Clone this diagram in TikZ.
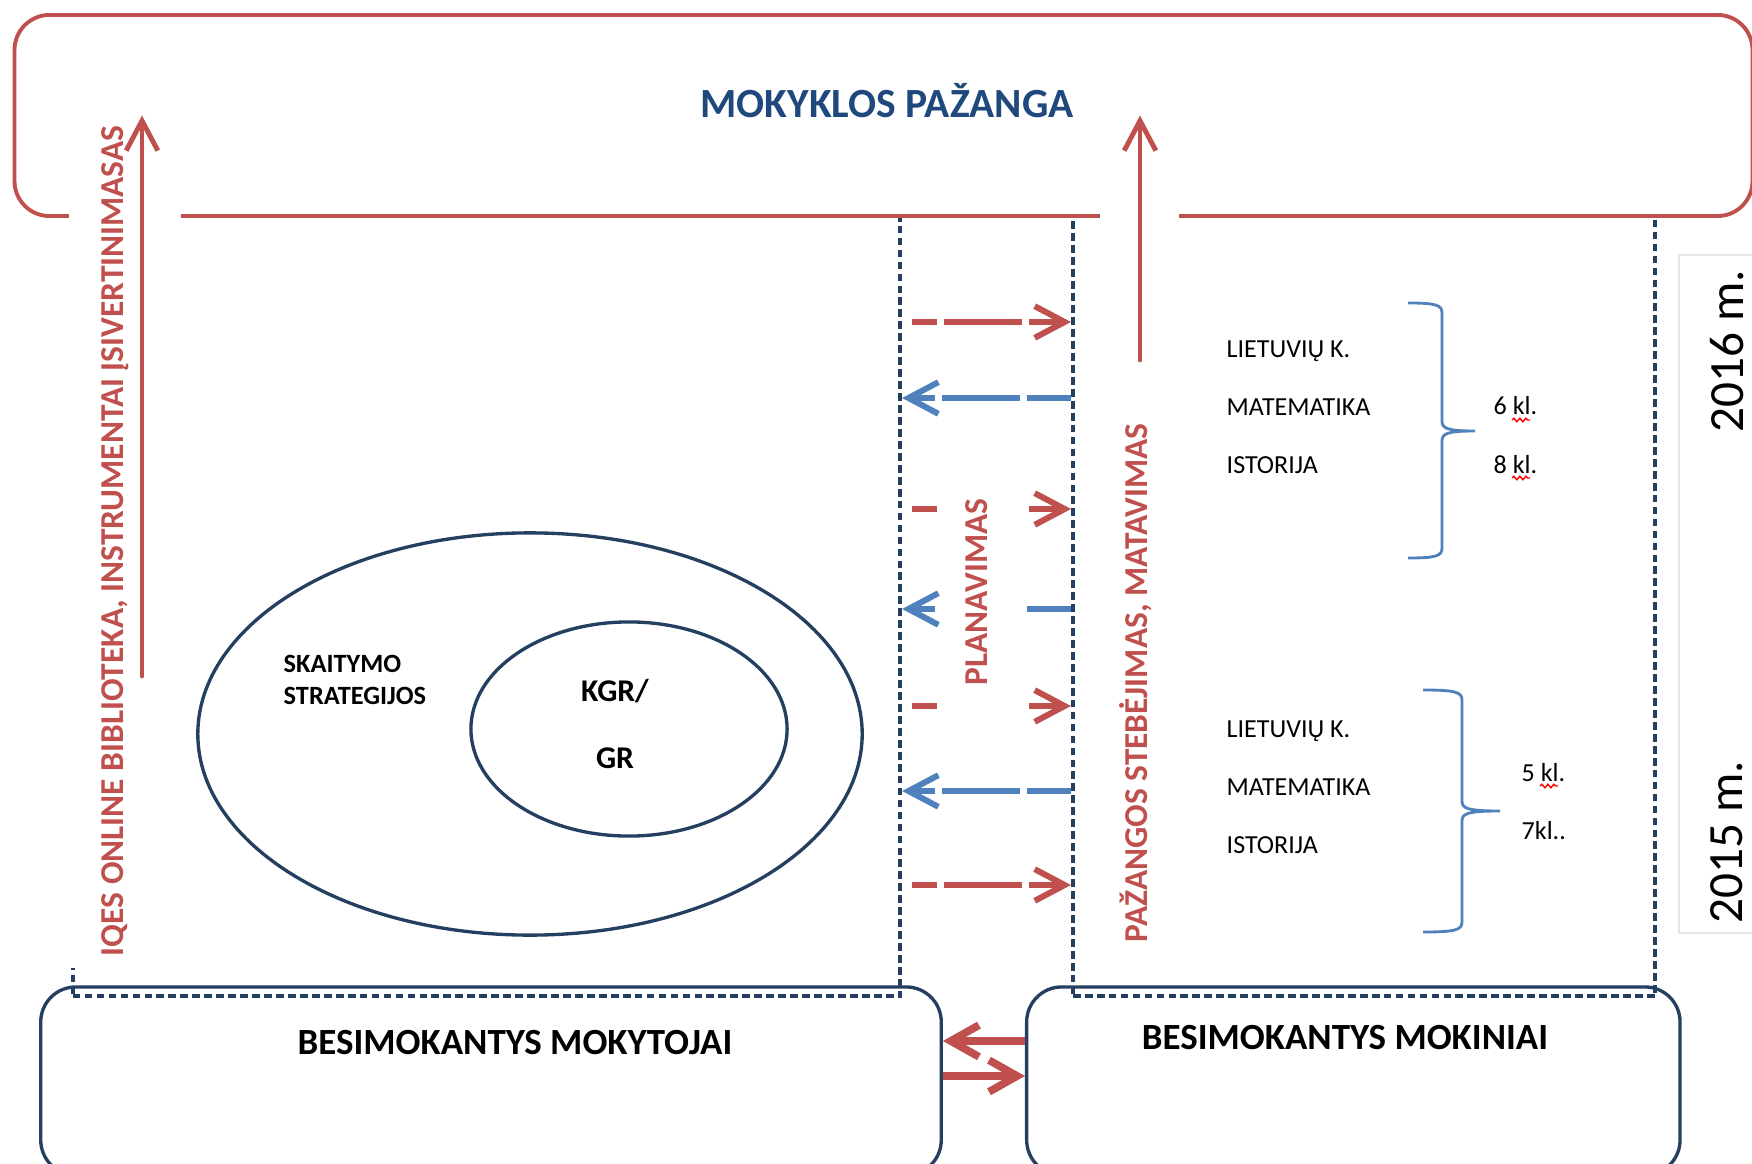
\documentclass[tikz,border=0pt]{standalone}
\usepackage{fontspec}
\setmainfont{Carlito}
\usetikzlibrary{positioning, arrows.meta, shapes.geometric, decorations.pathmorphing}
\definecolor{pzred}{HTML}{C0504D}
\definecolor{pznavy}{HTML}{243F60}
\definecolor{pzblue}{HTML}{4F81BD}
\definecolor{pztitle}{HTML}{1F497D}
\tikzset{
  frame/.style={draw=pznavy, line width=0.95pt, rounded corners=0.35cm, minimum height=1.88cm},
  goalbox/.style={draw=pzred, fill=white, line width=1.1pt, rounded corners=0.35cm, minimum width=17.37cm, minimum height=2.01cm},
  zone/.style={draw=pznavy, line width=1.05pt, dash pattern=on 2.2pt off 1.2pt, minimum height=7.91cm},
  ring/.style={ellipse, draw=pznavy, line width=0.95pt},
  titletxt/.style={anchor=base, inner sep=0pt, text=pztitle, font=\bfseries\fontsize{11.8}{14}\selectfont},
  boxtxt/.style={anchor=base, inner sep=0pt, font=\bfseries\fontsize{10.5}{12}\selectfont},
  sidelbl/.style={rotate=90, anchor=base, inner sep=0pt, text=pzred, font=\bfseries\fontsize{9.5}{11}\selectfont},
  subj/.style={anchor=west, align=left, inner sep=0pt, font=\fontsize{7.4}{16.5}\selectfont},
  grade/.style={anchor=base west, inner sep=0pt, font=\fontsize{7.4}{9}\selectfont},
  year/.style={rotate=90, inner sep=0pt, font=\fontsize{14}{16}\selectfont},
  uparr/.style={pzred, line width=1.4pt, line cap=round, -{Straight Barb[length=8.5pt, width=9pt]}},
  fwd/.style={pzred, line width=1.7pt, dash pattern=on 0.78cm off 0.07cm, dash phase=0.53cm, shorten <=0.1cm, -{Straight Barb[length=8.5pt, width=9pt]}},
  back/.style={pzblue, line width=1.7pt, dash pattern=on 0.78cm off 0.07cm, dash phase=0.34cm, -{Straight Barb[length=8.5pt, width=9pt]}},
  swaparr/.style={pzred, line width=2.2pt, -{Straight Barb[length=8pt, width=9pt]}},
  brc/.style={draw=pzblue, line width=0.8pt},
  spell/.style={draw=red, line width=0.4pt, decorate, decoration={snake, amplitude=0.5pt, segment length=1.7pt}}
}
\begin{document}
\begin{tikzpicture}[x=0.01cm, y=-0.01cm]
\useasboundingbox (0,0) rectangle (1752,1164);
\clip (0,0) rectangle (1752,1164);
% learners
\node[frame, minimum width=9cm] (mokyt) at (491,1081) {};
\node[frame, minimum width=6.53cm, right=0.82cm of mokyt] (mokin) {};
\node[boxtxt] (mokyttxt) at (515,1054) {BESIMOKANTYS MOKYTOJAI};
\node[boxtxt] (mokintxt) at (1345,1049) {BESIMOKANTYS MOKINIAI};
% dashed zones
\node[zone, minimum width=8.27cm] (tzone) at (486.5,600.5) {};
\node[zone, minimum width=5.82cm] (pzone) at (1364,600.5) {};
% school progress
\node[goalbox] (goal) at (883.5,115.5) {};
\node[titletxt] (ttl) at (887,118) {MOKYKLOS PAŽANGA};
% white backing of the side labels
\fill[white] (69,150) rectangle (181,968);
\fill[white] (1100,150) rectangle (1179,960);
% reading strategies
\node[ring, minimum width=6.64cm, minimum height=4.02cm] (outer) at (530,734) {};
\node[ring, minimum width=3.16cm, minimum height=2.14cm] (inner) at (629,729) {};
\node[anchor=west, align=left, inner sep=0pt, font=\bfseries\fontsize{7.5}{9.1}\selectfont] (skait) at (283,680) {SKAITYMO\\STRATEGIJOS};
\node[align=center, inner sep=0pt, font=\bfseries\fontsize{9}{19}\selectfont] (kgr) at (615,724) {KGR/\\GR};
% planning arrows
\draw[fwd] (tzone.east |- 0,322) -- (pzone.west |- 0,322);
\draw[back] (pzone.west |- 0,398) -- (tzone.east |- 0,398);
\draw[fwd] (tzone.east |- 0,509) -- (pzone.west |- 0,509);
\draw[back] (pzone.west |- 0,609) -- (tzone.east |- 0,609);
\draw[fwd] (tzone.east |- 0,706) -- (pzone.west |- 0,706);
\draw[back] (pzone.west |- 0,791) -- (tzone.east |- 0,791);
\draw[fwd] (tzone.east |- 0,885) -- (pzone.west |- 0,885);
\node[sidelbl, anchor=center, fill=white, minimum width=2.68cm, minimum height=0.86cm, text depth=0.13cm] (plan) at (983,592) {PLANAVIMAS};
% side labels and arrows up
\node[sidelbl] (lib) at (123,541) {IQES ONLINE BIBLIOTEKA, INSTRUMENTAI ĮSIVERTINIMASAS};
\node[sidelbl] (meas) at (1147,683) {PAŽANGOS STEBĖJIMAS, MATAVIMAS};
\coordinate (libfoot) at (142,676);
\coordinate (measfoot) at (1140,360);
\draw[uparr] (libfoot) -- (libfoot |- goal.center);
\draw[uparr] (measfoot) -- (measfoot |- goal.center);
% subjects
\node[subj] (sub16) at (1226,407) {LIETUVIŲ K.\\MATEMATIKA\\ISTORIJA};
\node[subj] (sub15) at (1226,787) {LIETUVIŲ K.\\MATEMATIKA\\ISTORIJA};
\draw[brc] (1408,303) .. controls (1436,303) and (1442,305) .. (1442,313) -- (1442,421)
  .. controls (1442,428) and (1446,431) .. (1475,431) .. controls (1446,431) and (1442,434) .. (1442,441)
  -- (1442,548) .. controls (1442,556) and (1436,558) .. (1408,558);
\draw[brc] (1423,690) .. controls (1455,690) and (1462,692) .. (1462,700) -- (1462,801)
  .. controls (1462,808) and (1466,811) .. (1500,811) .. controls (1466,811) and (1462,814) .. (1462,821)
  -- (1462,922) .. controls (1462,930) and (1455,932) .. (1423,932);
\node[grade] (g6) at (1493,415) {6 kl.};
\node[grade] (g8) at (1493,473) {8 kl.};
\node[grade] (g5) at (1521,781) {5 kl.};
\node[grade] (g7) at (1521,839) {7kl..};
\draw[spell] ([xshift=0.19cm, yshift=-0.05cm]g6.base west) -- ([xshift=0.37cm, yshift=-0.05cm]g6.base west);
\draw[spell] ([xshift=0.19cm, yshift=-0.05cm]g8.base west) -- ([xshift=0.37cm, yshift=-0.05cm]g8.base west);
\draw[spell] ([xshift=0.19cm, yshift=-0.05cm]g5.base west) -- ([xshift=0.37cm, yshift=-0.05cm]g5.base west);
% years
\draw[black!10, line width=0.6pt] (1679,255) rectangle (1770,933);
\node[year] (y16) at (1727,351) {2016 m.};
\node[year] (y15) at (1727,842) {2015 m.};
% teachers <-> pupils
\draw[swaparr] ([yshift=0.4cm]mokin.west) -- ([yshift=0.4cm]mokyt.east);
\draw[swaparr] ([yshift=0.05cm]mokyt.east) -- ([yshift=0.05cm]mokin.west);
\end{tikzpicture}
\end{document}
